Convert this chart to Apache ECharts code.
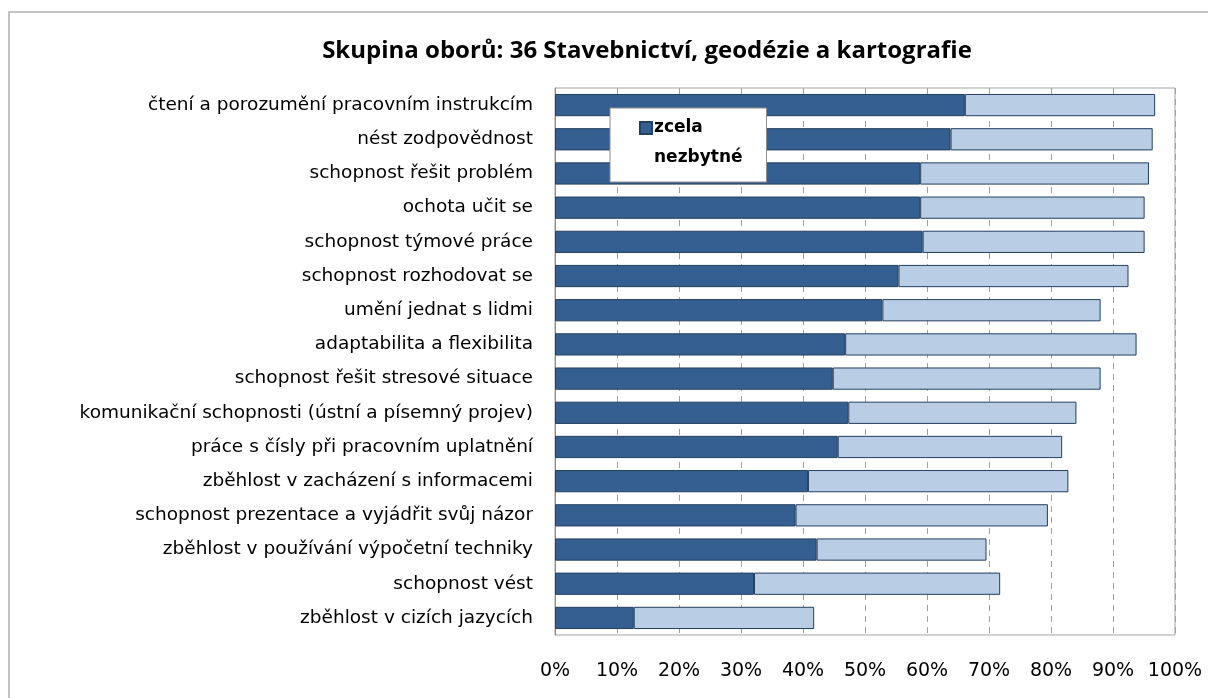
<!DOCTYPE html>
<html>
<head>
<meta charset="utf-8">
<script src="https://cdn.jsdelivr.net/npm/echarts@6/dist/echarts.min.js"></script>
<style>
  html, body { margin: 0; padding: 0; background: #fff; }
  #chart { width: 1208px; height: 698px; }
</style>
</head>
<body>
<div id="chart"></div>
<script>
// ----------------------
// Dados
// ----------------------
const categories = [
  'čtení a porozumění pracovním instrukcím',
  'nést zodpovědnost',
  'schopnost řešit problém',
  'ochota učit se',
  'schopnost týmové práce',
  'schopnost rozhodovat se',
  'umění jednat s lidmi',
  'adaptabilita a flexibilita',
  'schopnost řešit stresové situace',
  'komunikační schopnosti (ústní a písemný projev)',
  'práce s čísly při pracovním uplatnění',
  'zběhlost v zacházení s informacemi',
  'schopnost prezentace a vyjádřit svůj názor',
  'zběhlost v používání výpočetní techniky',
  'schopnost vést',
  'zběhlost v cizích jazycích'
];

// zcela nezbytné (tmavě modrá)
const zcelaNezbytne = [66.1, 63.8, 58.9, 58.9, 59.3, 55.4, 52.8, 46.8, 44.8, 47.3, 45.6, 40.8, 38.8, 42.2, 32.1, 12.7];
// druhá část (světle modrá)
const spiseNezbytne = [30.7, 32.6, 36.9, 36.2, 35.8, 37.1, 35.2, 47.0, 43.2, 36.8, 36.2, 42.0, 40.7, 27.4, 39.7, 29.1];

const COLOR_DARK = '#365f91';
const COLOR_LIGHT = '#b9cde5';
const COLOR_EDGE = '#243f60';
const FONT = 'DejaVu Sans';

function initChart() {
  const chart = echarts.init(document.getElementById('chart'));
  chart.setOption({
    animation: false,
    title: {
      text: 'Skupina oborů: 36 Stavebnictví, geodézie a kartografie',
      left: 642,
      textAlign: 'center',
      top: 34,
      textStyle: { fontFamily: 'Open Sans', fontWeight: 'bold', fontSize: 24, color: '#000' }
    },
    graphic: [{
      type: 'rect',
      shape: { x: 9, y: 12, width: 1260, height: 760 },
      style: { fill: 'none', stroke: '#c3c3c3', lineWidth: 2 },
      silent: true
    }],
    legend: {
      data: ['zcela nezbytné'],
      left: 610,
      top: 108,
      orient: 'vertical',
      backgroundColor: '#fff',
      borderColor: '#8c8c8c',
      borderWidth: 1,
      padding: [4, 24, 8, 29],
      itemWidth: 12,
      itemHeight: 60,
      // čtvereček nahoře, zbytek výšky prázdný (druhý řádek textu)
      icon: 'path://M0,0M0,9h12v12h-12zM6,60',
      formatter: () => 'zcela\nnezbytné',
      textStyle: { fontFamily: FONT, fontWeight: 'bold', fontSize: 17, lineHeight: 30, color: '#000', padding: [0, 0, 0, -3] }
    },
    grid: { left: 555, right: 33, top: 88, bottom: 63, show: true, borderColor: '#a6a6a6', borderWidth: 1 },
    xAxis: {
      type: 'value',
      min: 0,
      max: 100,
      interval: 10,
      axisLine: { show: false },
      axisTick: { show: false },
      axisLabel: { formatter: '{value}%', fontFamily: FONT, fontSize: 19, color: '#000', margin: 27 },
      splitLine: { show: true, lineStyle: { color: '#a0a0a0', type: [6, 5], width: 1 } }
    },
    yAxis: {
      type: 'category',
      data: categories,
      inverse: true,
      axisLine: { show: true, lineStyle: { color: '#8c8c8c', width: 1 } },
      axisTick: { show: false },
      axisLabel: { fontFamily: FONT, fontSize: 18.5, color: '#000', margin: 22 }
    },
    series: [
      {
        name: 'zcela nezbytné',
        type: 'bar',
        stack: 'total',
        data: zcelaNezbytne,
        barCategoryGap: '35%',
        itemStyle: { color: COLOR_DARK, borderColor: COLOR_EDGE, borderWidth: 1 }
      },
      {
        name: 'spíše nezbytné',
        type: 'bar',
        stack: 'total',
        data: spiseNezbytne,
        barCategoryGap: '35%',
        itemStyle: { color: COLOR_LIGHT, borderColor: COLOR_EDGE, borderWidth: 1 }
      }
    ]
  });
  return chart;
}

const chart = initChart();
window.addEventListener('resize', () => chart.resize());
</script>
</body>
</html>
